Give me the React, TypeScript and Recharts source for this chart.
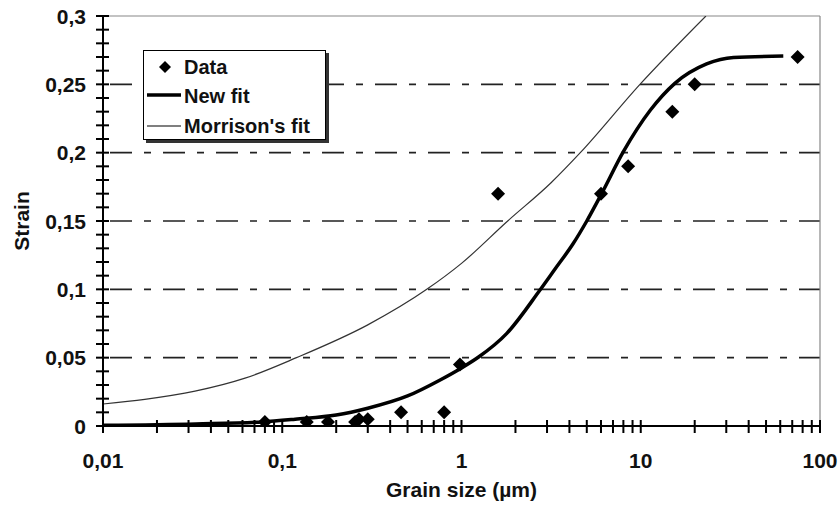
import React from 'react'
import { ComposedChart, Line, Scatter, XAxis, YAxis, ReferenceLine, Legend } from 'recharts'

// measured points (grain size in µm, strain)
const dataX = [0.08, 0.137, 0.18, 0.255, 0.268, 0.3, 0.46, 0.8, 0.98, 1.6, 6.0, 8.5, 15, 20, 75]
const dataY = [0.003, 0.003, 0.003, 0.003, 0.005, 0.005, 0.01, 0.01, 0.045, 0.17, 0.17, 0.19, 0.23, 0.25, 0.27]

// new fit curve
const newFitX = [0.01, 0.033, 0.077, 0.118, 0.2, 0.3, 0.5, 0.76, 1.0, 1.24, 1.79, 2.74, 3.31, 4.2, 5.0, 6.05, 8.0, 11.3, 15.5, 23.3, 32.9, 62.4]
const newFitY = [0.0005, 0.0015, 0.003, 0.005, 0.008, 0.013, 0.022, 0.0337, 0.0425, 0.0503, 0.0678, 0.0995, 0.1145, 0.1335, 0.15, 0.17, 0.2007, 0.231, 0.2507, 0.2649, 0.2697, 0.2707]

// Morrison's fit
const morrisonX = [0.01, 0.0171, 0.0326, 0.062, 0.12, 0.3, 0.64, 1, 1.81, 3.16, 4.6, 9.9, 23.1]
const morrisonY = [0.0161, 0.0195, 0.0255, 0.035, 0.05, 0.074, 0.1, 0.119, 0.15, 0.178, 0.2, 0.25, 0.3]

const xDecades = [0.01, 0.1, 1, 10, 100]
const xMinorSteps = [2, 3, 4, 5, 6, 7, 8, 9]
const yMinorStep = 0.01
const yMax = 0.3
const gridLevels = [0.05, 0.1, 0.15, 0.2, 0.25]

const FONT = '"Liberation Sans", Arial, sans-serif'

const toRows = (xs: number[], ys: number[]) => xs.map((x, i) => ({ x, y: ys[i] }))
const dataRows = toRows(dataX, dataY)
const newFitRows = toRows(newFitX, newFitY)
const morrisonRows = toRows(morrisonX, morrisonY)

const xTicks = xDecades.flatMap((d, i) =>
  i < xDecades.length - 1 ? [d, ...xMinorSteps.map((s) => +(d * s).toPrecision(3))] : [d]
)
const yTicks = Array.from({ length: Math.round(yMax / yMinorStep) + 1 }, (_, i) => +(i * yMinorStep).toFixed(2))

const comma = (v: number) => String(v).replace('.', ',')

// tick marks cross the axis line, only decades / multiples of 0.05 get a label
function XTick(props: any) {
  const { x, y, payload } = props
  const v = payload.value
  const lg = Math.log10(v)
  const major = Math.abs(lg - Math.round(lg)) < 1e-9
  return (
    <g>
      <rect x={x - 1} y={y - 6} width={2} height={13} fill="#000" />
      {major && (
        <text x={x} y={y + 42} textAnchor="middle" fontFamily={FONT} fontWeight="bold" fontSize={21} fill="#111">
          {comma(v)}
        </text>
      )}
    </g>
  )
}

function YTick(props: any) {
  const { x, y, payload } = props
  const v = payload.value
  const major = Math.round(v * 100) % 5 === 0
  return (
    <g>
      <rect x={x - 7} y={y - 1} width={13} height={2} fill="#000" />
      {major && (
        <text x={x - 17} y={y + 7.5} textAnchor="end" fontFamily={FONT} fontWeight="bold" fontSize={21} fill="#111">
          {comma(v)}
        </text>
      )}
    </g>
  )
}

function Diamond({ cx, cy, r = 7 }: { cx: number; cy: number; r?: number }) {
  return <polygon points={`${cx},${cy - r} ${cx + r},${cy} ${cx},${cy + r} ${cx - r},${cy}`} fill="#000" />
}

function LegendBox() {
  const txt = { fontFamily: FONT, fontWeight: 'bold' as const, fontSize: 20, fill: '#111' }
  return (
    <div style={{ width: 181, height: 88, border: '1.5px solid #000', background: '#fff', boxShadow: '3px 3px 0 #333' }}>
      <svg width={181} height={88} style={{ display: 'block' }}>
        <Diamond cx={21} cy={16} r={6} />
        <text x={40} y={23} {...txt}>Data</text>
        <line x1={3} x2={37} y1={44} y2={44} stroke="#000" strokeWidth={3.5} />
        <text x={40} y={52} {...txt}>New fit</text>
        <line x1={3} x2={37} y1={75} y2={75} stroke="#000" strokeWidth={1.2} />
        <text x={40} y={82} {...txt}>Morrison's fit</text>
      </svg>
    </div>
  )
}

export default function App() {
  return (
    <div style={{ position: 'absolute', left: 0, top: 0, width: 840, height: 508, background: '#fff' }}>
      <ComposedChart width={840} height={508} margin={{ top: 16, right: 20, left: 0, bottom: 0 }}>
        <XAxis
          dataKey="x"
          type="number"
          scale="log"
          domain={[0.01, 100]}
          allowDataOverflow
          ticks={xTicks}
          interval={0}
          height={82}
          tickSize={0}
          tickMargin={0}
          tickLine={false}
          tick={<XTick />}
          axisLine={{ stroke: '#000', strokeWidth: 2 }}
          label={{
            value: 'Grain size (µm)',
            position: 'insideBottom',
            offset: 11,
            style: { fontFamily: FONT, fontWeight: 'bold', fontSize: 21, fill: '#111' },
          }}
        />
        <YAxis
          type="number"
          domain={[0, yMax]}
          allowDataOverflow
          ticks={yTicks}
          interval={0}
          width={103}
          tickSize={0}
          tickMargin={0}
          tickLine={false}
          tick={<YTick />}
          axisLine={{ stroke: '#000', strokeWidth: 2 }}
          label={({ viewBox }: any) => {
            const cy = viewBox.y + viewBox.height / 2
            return (
              <text x={29} y={cy} transform={`rotate(-90 29 ${cy})`} textAnchor="middle"
                fontFamily={FONT} fontWeight="bold" fontSize={21} fill="#111">
                Strain
              </text>
            )
          }}
        />
        {gridLevels.map((g) => (
          <ReferenceLine key={g} y={g} stroke="#222" strokeWidth={1.6} strokeDasharray="0 7 22 12 7 5" />
        ))}
        <ReferenceLine y={yMax} stroke="#888" strokeWidth={1.2} />
        <ReferenceLine x={100} stroke="#888" strokeWidth={1.2} />
        <Line data={morrisonRows} dataKey="y" type="monotone" stroke="#333" strokeWidth={1.2} dot={false} isAnimationActive={false} />
        <Line data={newFitRows} dataKey="y" type="monotone" stroke="#000" strokeWidth={3.5} dot={false} isAnimationActive={false} />
        <Scatter data={dataRows} dataKey="y" shape={(p: any) => <Diamond cx={p.cx} cy={p.cy} />} isAnimationActive={false} />
        <Legend
          layout="vertical"
          align="center"
          verticalAlign="middle"
          content={() => <LegendBox />}
          wrapperStyle={{ left: 143, top: 50, width: 'auto' }}
        />
      </ComposedChart>
    </div>
  )
}
